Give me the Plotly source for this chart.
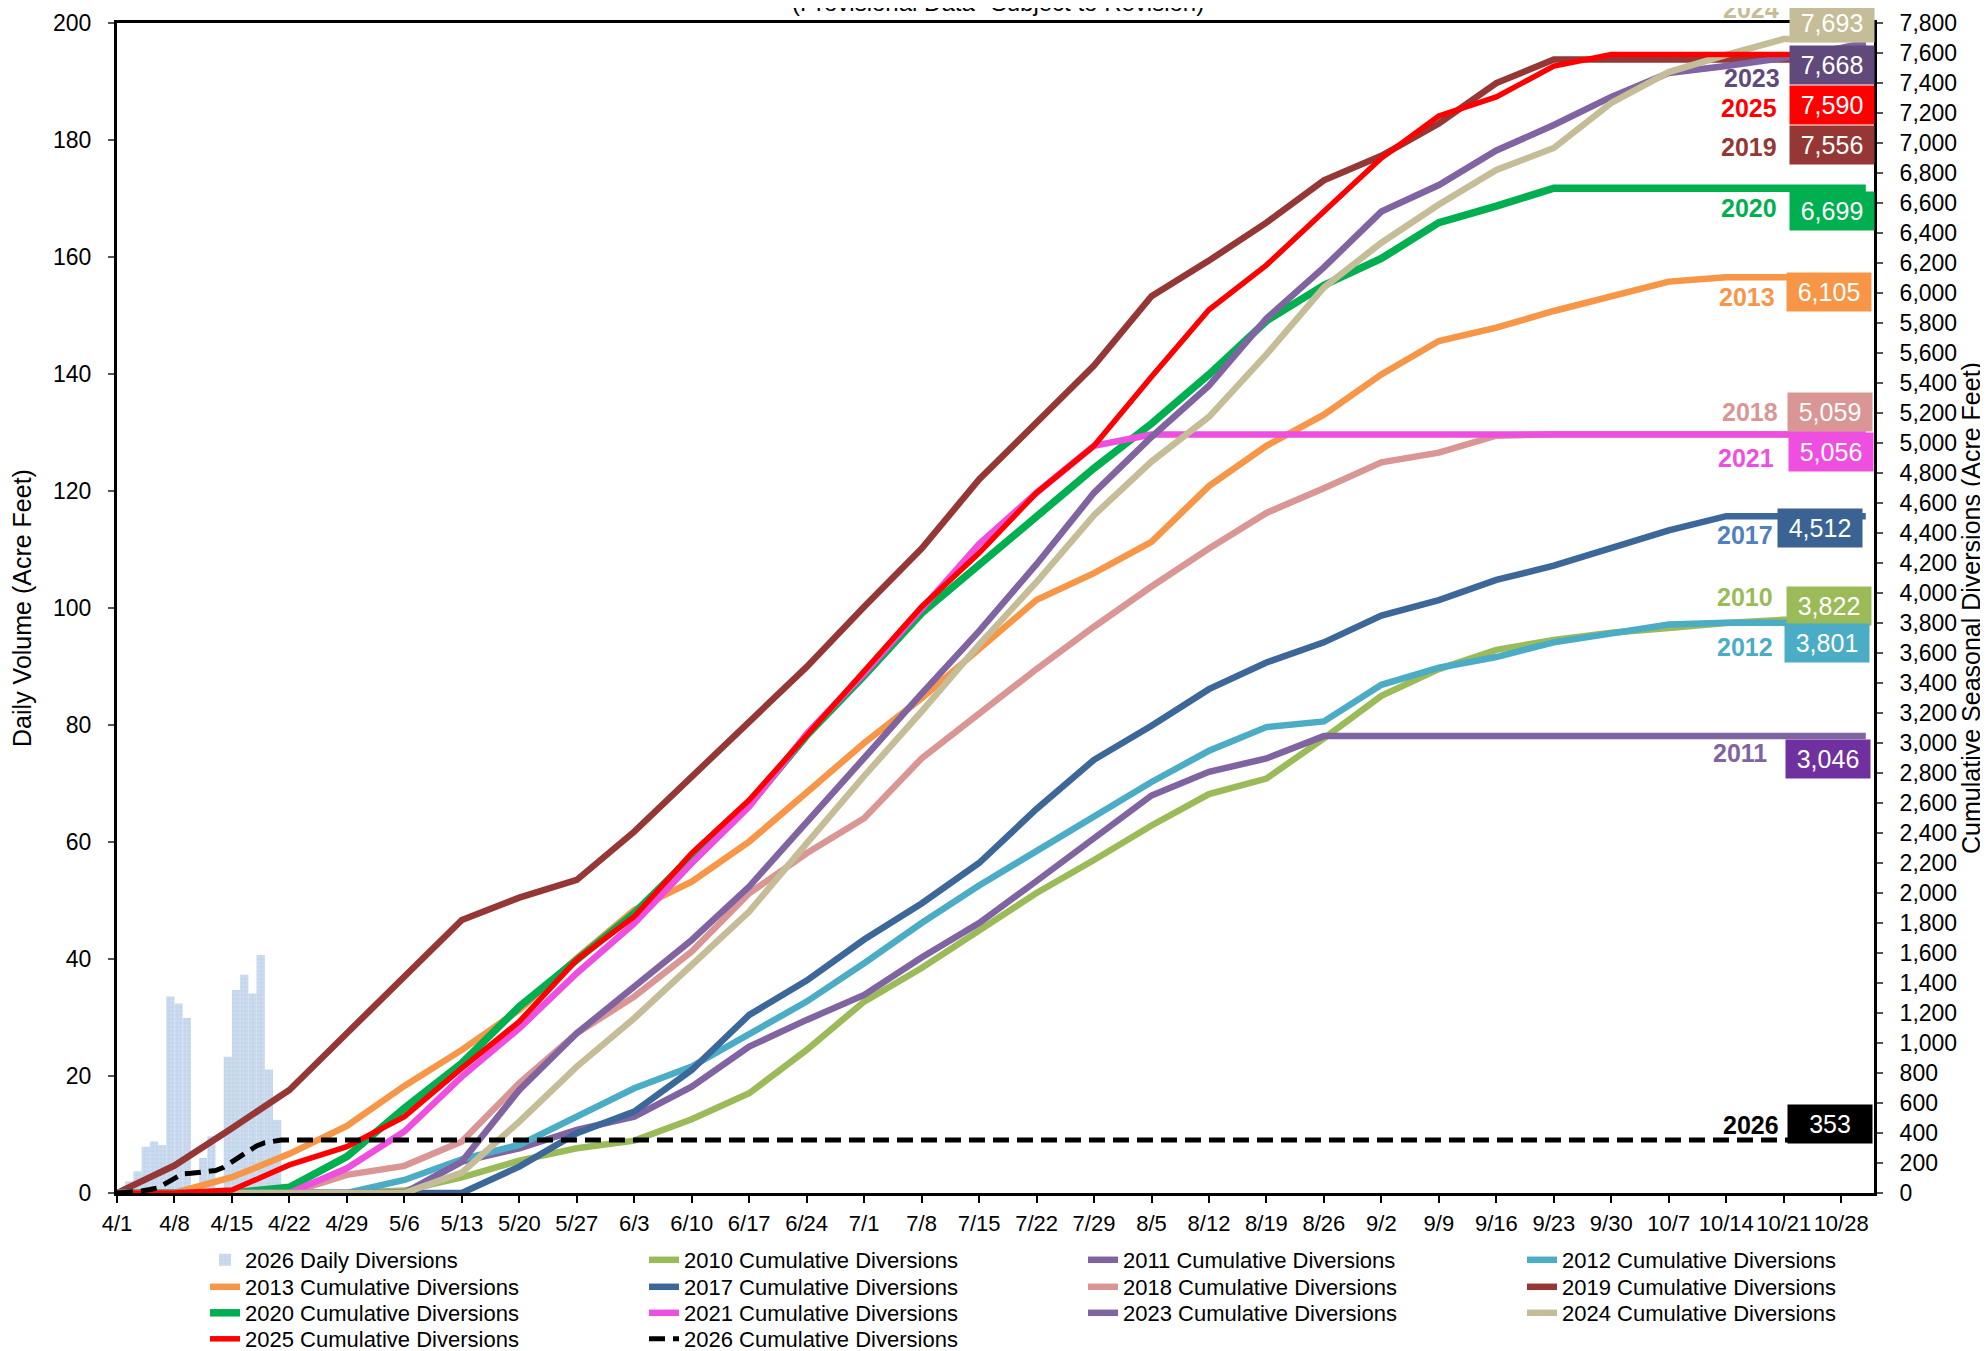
import plotly.graph_objects as go

# ---------------- DATA ----------------
week_dates = ["2026-04-01", "2026-04-08", "2026-04-15", "2026-04-22", "2026-04-29", "2026-05-06",
              "2026-05-13", "2026-05-20", "2026-05-27", "2026-06-03", "2026-06-10", "2026-06-17",
              "2026-06-24", "2026-07-01", "2026-07-08", "2026-07-15", "2026-07-22", "2026-07-29",
              "2026-08-05", "2026-08-12", "2026-08-19", "2026-08-26", "2026-09-02", "2026-09-09",
              "2026-09-16", "2026-09-23", "2026-09-30", "2026-10-07", "2026-10-14", "2026-10-21",
              "2026-10-28", "2026-10-31"]

cum_2010 = [0, 0, 0, 0, 0, 16, 105, 216, 298, 349, 492, 665, 954, 1276, 1500, 1750, 2000, 2220, 2450,
            2659, 2763, 3031, 3314, 3493, 3621, 3687, 3735, 3767, 3800, 3822, 3822, 3822]
cum_2011 = [0, 0, 0, 0, 0, 0, 209, 298, 421, 509, 709, 976, 1154, 1320, 1570, 1800, 2080, 2370, 2650,
            2808, 2897, 3046, 3046, 3046, 3046, 3046, 3046, 3046, 3046, 3046, 3046, 3046]
cum_2012 = [0, 0, 0, 0, 0, 87, 225, 321, 509, 698, 843, 1065, 1276, 1532, 1800, 2050, 2280, 2520, 2740,
            2948, 3106, 3144, 3388, 3502, 3573, 3671, 3735, 3790, 3801, 3801, 3801, 3801]
cum_2013 = [0, 0, 105, 261, 447, 714, 954, 1221, 1565, 1887, 2076, 2343, 2670, 3000, 3299, 3627, 3954,
            4132, 4341, 4713, 4981, 5189, 5457, 5680, 5769, 5880, 5976, 6076, 6105, 6105, 6105, 6105]
cum_2017 = [0, 0, 0, 0, 0, 0, 0, 176, 398, 543, 820, 1187, 1416, 1690, 1930, 2200, 2560, 2888, 3115,
            3359, 3537, 3671, 3850, 3953, 4087, 4182, 4302, 4418, 4512, 4512, 4512, 4512]
cum_2018 = [0, 0, 0, 0, 121, 181, 343, 732, 1065, 1309, 1609, 1998, 2265, 2498, 2897, 3195, 3493, 3775,
            4043, 4296, 4534, 4698, 4871, 4936, 5049, 5059, 5059, 5059, 5059, 5059, 5059, 5059]
cum_2019 = [0, 183, 432, 687, 1065, 1443, 1820, 1969, 2087, 2409, 2776, 3143, 3507, 3909, 4296, 4757,
            5144, 5516, 5978, 6216, 6469, 6751, 6915, 7130, 7400, 7556, 7556, 7556, 7556, 7556, 7556, 7556]
cum_2020 = [0, 0, 0, 38, 243, 565, 865, 1243, 1554, 1865, 2243, 2587, 3050, 3448, 3865, 4192, 4504,
            4832, 5129, 5457, 5814, 6052, 6230, 6469, 6579, 6699, 6699, 6699, 6699, 6699, 6699, 6699]
cum_2021 = [0, 0, 0, 0, 165, 410, 776, 1098, 1465, 1798, 2198, 2576, 3061, 3463, 3894, 4326, 4668,
            4981, 5056, 5056, 5056, 5056, 5056, 5056, 5056, 5056, 5056, 5056, 5056, 5056, 5056, 5056]
cum_2023 = [0, 0, 0, 0, 0, 0, 209, 687, 1065, 1376, 1687, 2043, 2465, 2900, 3329, 3746, 4192, 4668,
            5040, 5382, 5829, 6171, 6543, 6720, 6950, 7120, 7307, 7467, 7513, 7567, 7633, 7668]
cum_2024 = [0, 0, 0, 0, 0, 0, 136, 476, 843, 1165, 1520, 1876, 2331, 2780, 3210, 3656, 4073, 4519,
            4876, 5174, 5591, 6037, 6335, 6590, 6820, 6967, 7267, 7473, 7587, 7693, 7693, 7693]
cum_2025 = [0, 0, 20, 187, 309, 509, 832, 1143, 1554, 1843, 2265, 2620, 3050, 3478, 3909, 4266, 4668,
            4981, 5442, 5888, 6186, 6543, 6900, 7180, 7307, 7513, 7590, 7590, 7590, 7590, 7590, 7590]

cum26_dates = ["2026-04-01", "2026-04-02", "2026-04-03", "2026-04-04", "2026-04-05", "2026-04-06",
               "2026-04-07", "2026-04-08", "2026-04-09", "2026-04-10", "2026-04-11", "2026-04-12",
               "2026-04-13", "2026-04-14", "2026-04-15", "2026-04-16", "2026-04-17", "2026-04-18",
               "2026-04-19", "2026-04-20", "2026-04-21", "2026-10-31"]
cum_2026 = [0, 2, 6, 14, 23, 34, 66, 100, 128, 131, 137, 147, 150, 172, 206, 243, 277, 314, 335, 348,
            353, 353]

daily_dates = ["2026-04-02", "2026-04-03", "2026-04-04", "2026-04-05", "2026-04-06", "2026-04-07",
               "2026-04-08", "2026-04-09", "2026-04-10", "2026-04-11", "2026-04-12", "2026-04-13",
               "2026-04-14", "2026-04-15", "2026-04-16", "2026-04-17", "2026-04-18", "2026-04-19",
               "2026-04-20"]
daily_2026 = [2.0, 3.7, 7.9, 8.8, 8.2, 33.6, 32.4, 29.9, 0.8, 6.0, 9.7, 0.5, 23.3, 34.7, 37.3, 34.1,
              40.7, 21.1, 12.5]

years = ["2010", "2011", "2012", "2013", "2017", "2018", "2019", "2020", "2021", "2023", "2024", "2025"]
final_values = {"2024": 7693, "2023": 7668, "2025": 7590, "2019": 7556, "2020": 6699, "2013": 6105,
                "2018": 5059, "2021": 5056, "2017": 4512, "2010": 3822, "2012": 3801, "2011": 3046,
                "2026": 353}

# ---------------- STYLE ----------------
series = {
    "2010": (cum_2010, "#9BBB59", 6.5),
    "2011": (cum_2011, "#8064A2", 6.5),
    "2012": (cum_2012, "#4BACC6", 6.5),
    "2013": (cum_2013, "#F79646", 6.5),
    "2017": (cum_2017, "#3C6799", 6.5),
    "2018": (cum_2018, "#D99694", 6.5),
    "2019": (cum_2019, "#953735", 6.5),
    "2020": (cum_2020, "#00B050", 7.5),
    "2021": (cum_2021, "#EE4FE0", 6.5),
    "2023": (cum_2023, "#8064A2", 6.5),
    "2024": (cum_2024, "#C4BD97", 6.5),
    "2025": (cum_2025, "#FF0000", 5.5),
}

# legend row of each trace
legend_rows = {"daily": "legend", "2010": "legend", "2011": "legend", "2012": "legend",
               "2013": "legend2", "2017": "legend2", "2018": "legend2", "2019": "legend2",
               "2020": "legend3", "2021": "legend3", "2023": "legend3", "2024": "legend3",
               "2025": "legend4", "2026": "legend4"}

# label layout (page px): year -> (year colour, box colour, year right x, year centre y, box centre x, box centre y)
label_style = {
    "2024": ("#C4BD97", "#C4BD97", 1781, 9, 1832, 23),
    "2023": ("#604A7B", "#604A7B", 1782, 78, 1832, 65),
    "2025": ("#FF0000", "#FF0000", 1779, 108, 1832, 105),
    "2019": ("#953735", "#953735", 1779, 147, 1832, 145),
    "2020": ("#00B050", "#00B050", 1779, 208, 1832, 211),
    "2013": ("#F79646", "#F79646", 1777, 297, 1829, 292),
    "2018": ("#D99694", "#D99694", 1780, 412, 1830, 412),
    "2021": ("#EE4FE0", "#EE4FE0", 1776, 458, 1831, 452),
    "2017": ("#4F81BD", "#3A6394", 1775, 535, 1820, 528),
    "2010": ("#9BBB59", "#9BBB59", 1775, 597, 1829, 606),
    "2012": ("#4BACC6", "#4BACC6", 1775, 647, 1827, 643),
    "2011": ("#8064A2", "#7030A0", 1769, 753, 1828, 759),
    "2026": ("#000000", "#000000", 1781, 1125, 1830, 1124),
}

OFF = 8                      # default page body margin
W, H = 1980, 1343
ML, MR, MT, MB = 109, 114, 15, 158
PW, PH = W - ML - MR, H - MT - MB
FONT = "Liberation Sans, Arial, sans-serif"


def px_x(page_px):
    return (page_px - OFF - ML) / PW


def px_y(page_py):
    return (H - MB - (page_py - OFF)) / PH


fig = go.Figure()

fig.add_trace(go.Bar(
    x=daily_dates, y=daily_2026, name="2026 Daily Diversions", legend=legend_rows["daily"],
    xperiod=86400000, xperiodalignment="middle", width=86400000,
    marker=dict(color="#C6D8EE", line=dict(width=0),
                pattern=dict(shape="+", fgcolor="#E9F0F8", bgcolor="#C3D5EC", size=4, solidity=0.25)),
    yaxis="y",
))

for yr in years:
    vals, col, w = series[yr]
    fig.add_trace(go.Scatter(
        x=week_dates, y=vals, mode="lines", name=f"{yr} Cumulative Diversions",
        legend=legend_rows[yr], line=dict(color=col, width=w), yaxis="y2",
    ))

fig.add_trace(go.Scatter(
    x=cum26_dates, y=cum_2026, mode="lines", name="2026 Cumulative Diversions",
    legend=legend_rows["2026"], line=dict(color="black", width=5, dash="16px,8px"), yaxis="y2",
))

annotations = []
for yr, (tcol, bcol, yr_right, yr_cy, bx, by) in label_style.items():
    annotations.append(dict(
        text=f"<b>{yr}</b>", xref="paper", yref="paper", x=px_x(yr_right), y=px_y(yr_cy),
        xanchor="right", yanchor="middle", showarrow=False,
        font=dict(family=FONT, size=25, color=tcol),
    ))
    annotations.append(dict(
        text=f"{final_values[yr]:,}", xref="paper", yref="paper", x=px_x(bx), y=px_y(by),
        xanchor="center", yanchor="middle", showarrow=False, bgcolor=bcol,
        width=80, height=34, borderpad=2,
        font=dict(family=FONT, size=25, color="white"),
    ))

annotations.append(dict(
    text="(Provisional Data--Subject to Revision)", xref="paper", yref="paper",
    x=px_x(998), y=px_y(2), xanchor="center", yanchor="middle", showarrow=False,
    font=dict(family=FONT, size=24, color="black"),
))

legend_common = dict(orientation="h", xanchor="left", yanchor="middle",
                     entrywidth=394, entrywidthmode="pixels", traceorder="normal",
                     font=dict(family=FONT, size=22, color="black"), bgcolor="rgba(0,0,0,0)")
row_y = [1260, 1287, 1313, 1339]

fig.update_layout(
    width=W, height=H,
    margin=dict(l=ML, r=MR, t=MT, b=MB, autoexpand=False),
    paper_bgcolor="white", plot_bgcolor="white",
    font=dict(family=FONT, color="black"),
    barmode="overlay",
    showlegend=True,
    legend=dict(x=px_x(205), y=px_y(row_y[0]), **legend_common),
    legend2=dict(x=px_x(205), y=px_y(row_y[1]), **legend_common),
    legend3=dict(x=px_x(205), y=px_y(row_y[2]), **legend_common),
    legend4=dict(x=px_x(205), y=px_y(row_y[3]), **legend_common),
    xaxis=dict(
        type="date", range=["2026-04-01", "2026-11-01"],
        tick0="2026-04-01", dtick=7 * 86400000, tickformat="%-m/%-d",
        ticks="outside", ticklen=7, tickwidth=2, tickcolor="black",
        showline=True, linecolor="black", linewidth=3, mirror=True,
        showgrid=False, zeroline=False,
        tickfont=dict(family=FONT, size=22, color="black"), ticklabelstandoff=2,
    ),
    yaxis=dict(
        range=[0, 200], dtick=20, ticks="outside", ticklen=6, tickwidth=1.5, tickcolor="#555",
        showline=True, linecolor="black", linewidth=3, showgrid=False, zeroline=False,
        tickfont=dict(family=FONT, size=23, color="black"), ticklabelstandoff=12,
        title=dict(text="Daily Volume (Acre Feet)", font=dict(family=FONT, size=25), standoff=18),
    ),
    yaxis2=dict(
        range=[0, 7800], dtick=200, overlaying="y", side="right", tickformat=",d",
        ticks="outside", ticklen=6, tickwidth=1.5, tickcolor="#555",
        showline=True, linecolor="black", linewidth=3, showgrid=False, zeroline=False,
        tickfont=dict(family=FONT, size=23, color="black"), ticklabelstandoff=12,
        title=dict(text="Cumulative Seasonal Diversions (Acre Feet)", font=dict(family=FONT, size=25),
                   standoff=6),
    ),
    annotations=annotations,
)

fig.write_html("out.html")
